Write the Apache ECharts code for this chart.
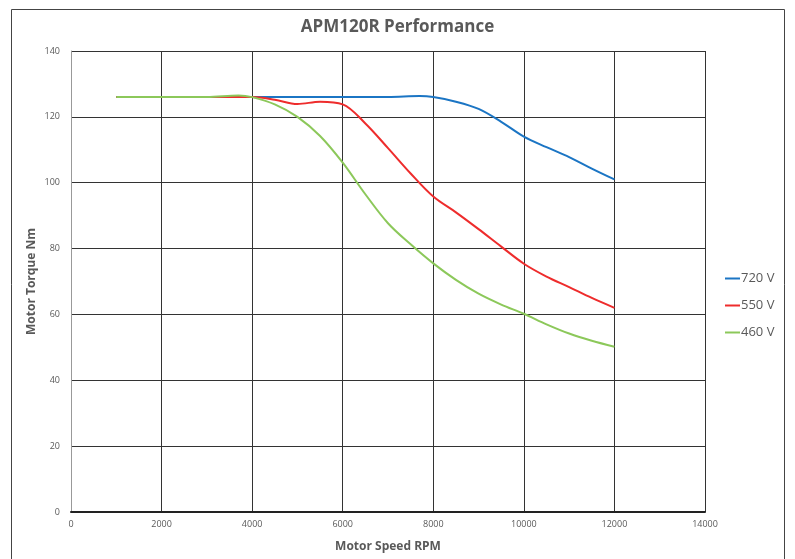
<!DOCTYPE html>
<html>
<head>
<meta charset="utf-8">
<script src="https://cdn.jsdelivr.net/npm/echarts@6/dist/echarts.min.js"></script>
<style>html,body{margin:0;padding:0;background:#fff}#c{width:795px;height:559px}</style>
</head>
<body>
<div id="c"></div>
<script>
const rpm720 = [1000,2000,3000,4000,5000,6000,7000,7700,8000,8500,9000,9500,10000,10500,11000,11500,12000];
const torque720 = [126,126,126,126,126,126,126,126.3,126,124.6,122.4,118.5,114,110.8,107.8,104.3,101];
const rpm550 = [1000,2000,3000,4000,4500,5000,5500,6000,6500,7000,7500,8000,8500,9000,9500,10000,10500,11000,11500,12000];
const torque550 = [126,126,126,126,125.2,123.9,124.6,123.8,118,110.5,102.8,95.8,91,85.9,80.6,75.4,71.5,68.3,65,62];
const rpm460 = [1000,2000,3000,3700,4000,4500,5000,5500,6000,6500,7000,7500,8000,8500,9000,9500,10000,10500,11000,11500,12000];
const torque460 = [126,126,126,126.5,126,123.8,120,114.2,106.1,96.5,87.7,81.3,75.5,70.5,66.3,63,60.2,57,54.2,52,50.2];
const seriesNames = ['720 V','550 V','460 V'];
const seriesColors = ['#1B75C4','#EE2C2C','#8CC85A'];

const font = '"Open Sans", "Liberation Sans", sans-serif';
const pair = (xs, ys) => xs.map((x, i) => [x, ys[i]]);
const allData = [pair(rpm720, torque720), pair(rpm550, torque550), pair(rpm460, torque460)];

const chart = echarts.init(document.getElementById('c'));
chart.setOption({
  animation: false,
  backgroundColor: '#fff',
  title: {
    text: 'APM120R Performance',
    left: 'center',
    top: 14,
    textStyle: {fontFamily: font, fontSize: 17, fontWeight: 'bold', color: '#595959'}
  },
  graphic: [{
    type: 'rect', silent: true,
    shape: {x: 11.5, y: 9.5, width: 773, height: 570},
    style: {fill: 'none', stroke: '#444', lineWidth: 1}
  }],
  legend: {
    orient: 'vertical',
    left: 720,
    top: 267,
    itemGap: 14,
    itemWidth: 15,
    itemHeight: 2,
    icon: 'rect',
    data: seriesNames,
    textStyle: {fontFamily: font, fontSize: 13, color: '#595959', padding: [0,0,0,-4]}
  },
  grid: {left: 71, right: 90, top: 51, bottom: 47},
  xAxis: {
    type: 'value', min: 0, max: 14000, interval: 2000,
    name: 'Motor Speed RPM', nameLocation: 'middle', nameGap: 29, nameMoveOverlap: false,
    nameTextStyle: {fontFamily: font, fontSize: 12, fontWeight: 'bold', color: '#595959'},
    axisLine: {show: true, lineStyle: {color: '#222', width: 2}},
    axisTick: {show: false},
    axisLabel: {fontFamily: font, fontSize: 9, color: '#595959', margin: 8, formatter: v => String(v)},
    splitLine: {show: true, lineStyle: {color: '#333', width: 1}}
  },
  yAxis: {
    type: 'value', min: 0, max: 140, interval: 20,
    name: 'Motor Torque Nm', nameLocation: 'middle', nameGap: 33, nameMoveOverlap: false,
    nameTextStyle: {fontFamily: font, fontSize: 12, fontWeight: 'bold', color: '#595959'},
    axisLine: {show: true, lineStyle: {color: '#999', width: 1}},
    axisTick: {show: false},
    axisLabel: {fontFamily: font, fontSize: 9, color: '#595959', margin: 11},
    splitLine: {show: true, lineStyle: {color: '#333', width: 1}}
  },
  series: seriesNames.map((n, i) => ({
    name: n, type: 'line', data: allData[i], smooth: 0.35, showSymbol: false,
    color: seriesColors[i], lineStyle: {width: 2, color: seriesColors[i]}, z: 2 + i
  }))
});
</script>
</body>
</html>
